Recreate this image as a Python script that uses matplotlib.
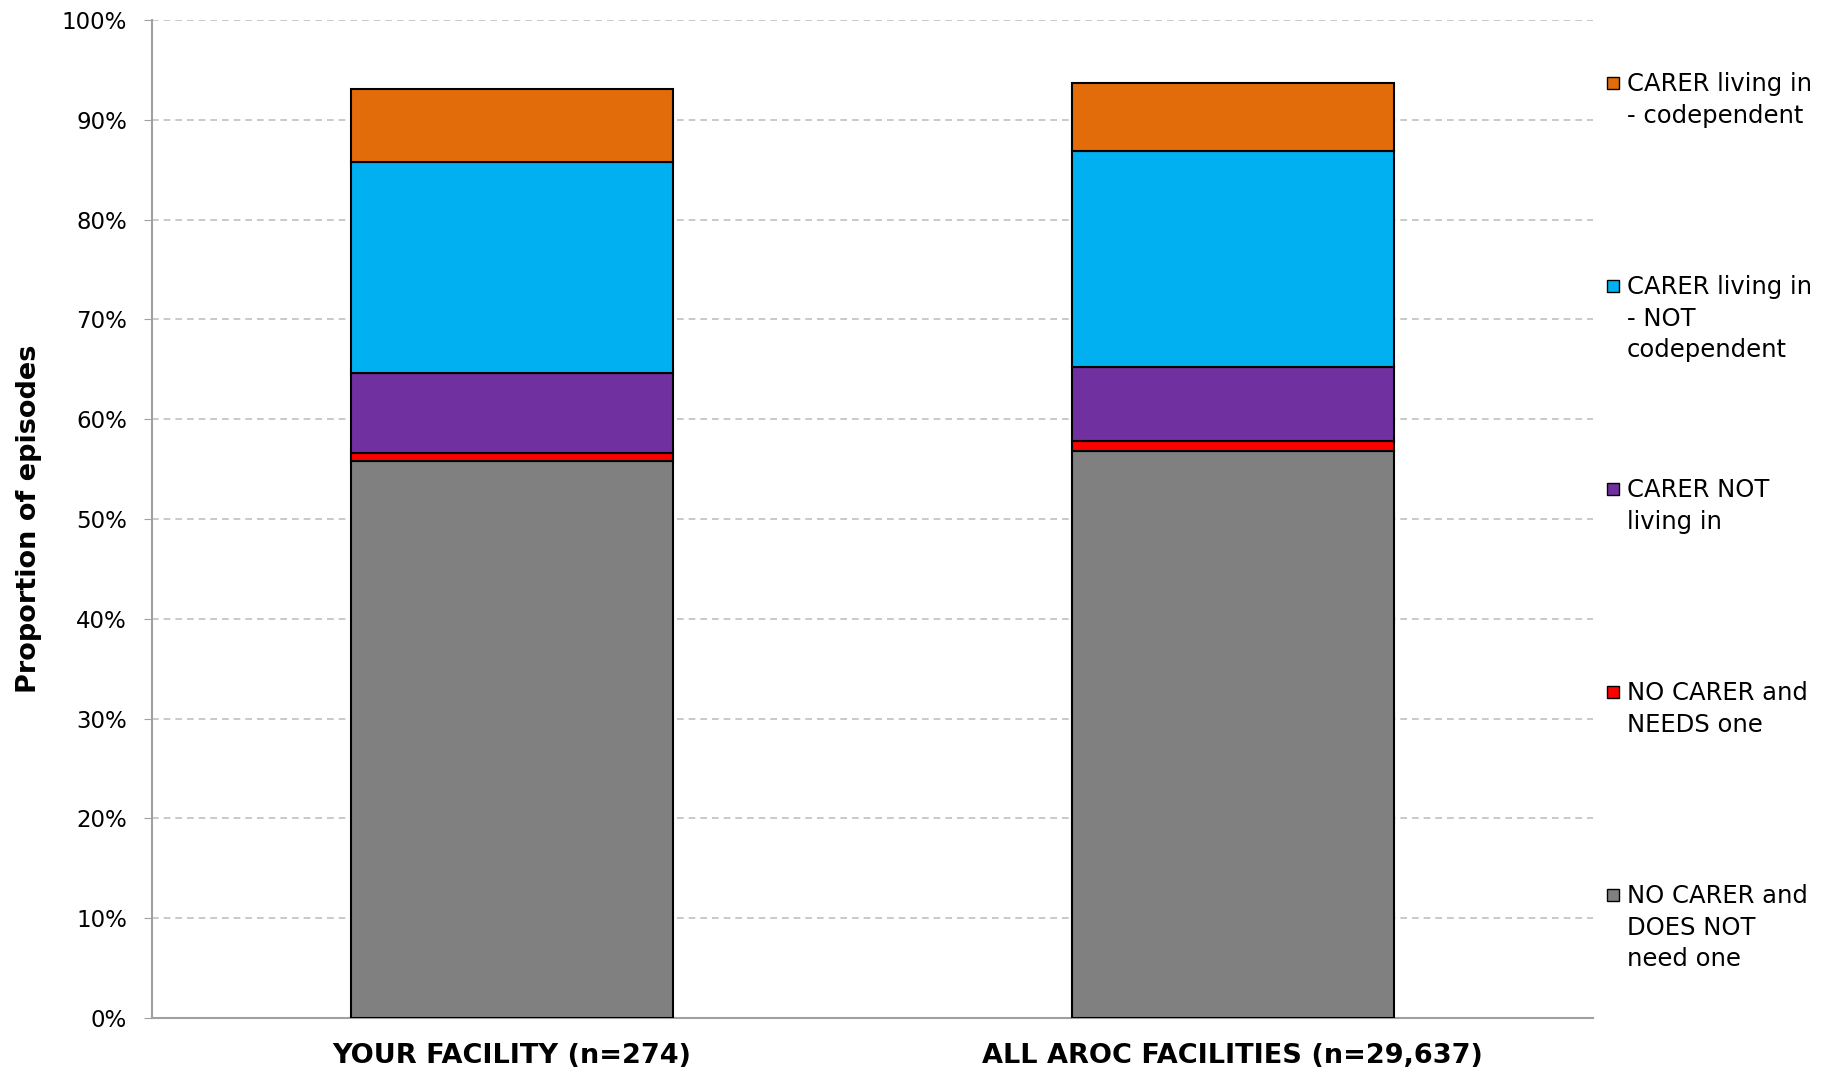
import matplotlib
matplotlib.use("Agg")
import matplotlib.pyplot as plt
from matplotlib.patches import Rectangle
from matplotlib.ticker import PercentFormatter, MultipleLocator

categories = ["YOUR FACILITY (n=274)", "ALL AROC FACILITIES (n=29,637)"]
series_names = ["NO CARER and\nDOES NOT\nneed one",
                "NO CARER and\nNEEDS one",
                "CARER NOT\nliving in",
                "CARER living in\n- NOT\ncodependent",
                "CARER living in\n- codependent"]
no_carer_not_needed = [55.8, 56.85]
no_carer_needs = [0.8, 1.0]
carer_not_living_in = [8.0, 7.4]
carer_living_not_codep = [21.2, 21.6]
carer_living_codep = [7.25, 6.8]
colors = ["#808080", "#FF0000", "#7030A0", "#00B0F0", "#E36C0A"]

series = [no_carer_not_needed, no_carer_needs, carer_not_living_in,
          carer_living_not_codep, carer_living_codep]

W, H = 1829, 1074
fig = plt.figure(figsize=(W / 100, H / 100), dpi=100)
ax = fig.add_axes([152 / W, 1 - 1018 / H, (1593 - 152) / W, (1018 - 20) / H])

x = list(range(len(categories)))
bottom = [0.0] * len(categories)
for vals, col in zip(series, colors):
    ax.bar(x, vals, width=0.447, bottom=bottom, color=col,
           edgecolor="black", linewidth=1.5, zorder=3)
    bottom = [b + v for b, v in zip(bottom, vals)]

ax.set_xlim(-0.5, 1.5)
ax.set_ylim(0, 100)
ax.yaxis.set_major_locator(MultipleLocator(10))
ax.yaxis.set_major_formatter(PercentFormatter(decimals=0))
ax.grid(axis="y", linestyle=(0, (4, 3)), color="#c0c0c0", linewidth=1.2, zorder=0)
for s in ["top", "right"]:
    ax.spines[s].set_visible(False)
for s in ["left", "bottom"]:
    ax.spines[s].set_color("#a0a0a0")
    ax.spines[s].set_linewidth(1.5)
ax.tick_params(axis="y", length=6, color="#a0a0a0", labelsize=16.5, pad=12)
ax.tick_params(axis="x", length=0, pad=18)
for t in ax.get_yticklabels():
    t.set_fontfamily("DejaVu Sans")
ax.set_xticks(x)
ax.set_xticklabels(categories, fontsize=19.5, fontweight="bold", family="DejaVu Sans")
ax.set_ylabel("Proportion of episodes", fontsize=19.5, fontweight="bold",
              family="DejaVu Sans", labelpad=14)

# legend, top entry first
legend_y = [83, 286, 489, 692, 895]
for name, col, yc in zip(series_names[::-1], colors[::-1], legend_y):
    fig.add_artist(Rectangle((1607 / W, 1 - (yc + 6) / H), 12 / W, 12 / H,
                             transform=fig.transFigure, facecolor=col,
                             edgecolor="black", linewidth=1.0))
    fig.text(1627 / W, 1 - (yc - 11) / H, name, fontsize=17.5, va="top", ha="left",
             linespacing=1.4, family="DejaVu Sans")

fig.savefig("out.png", dpi=100)
